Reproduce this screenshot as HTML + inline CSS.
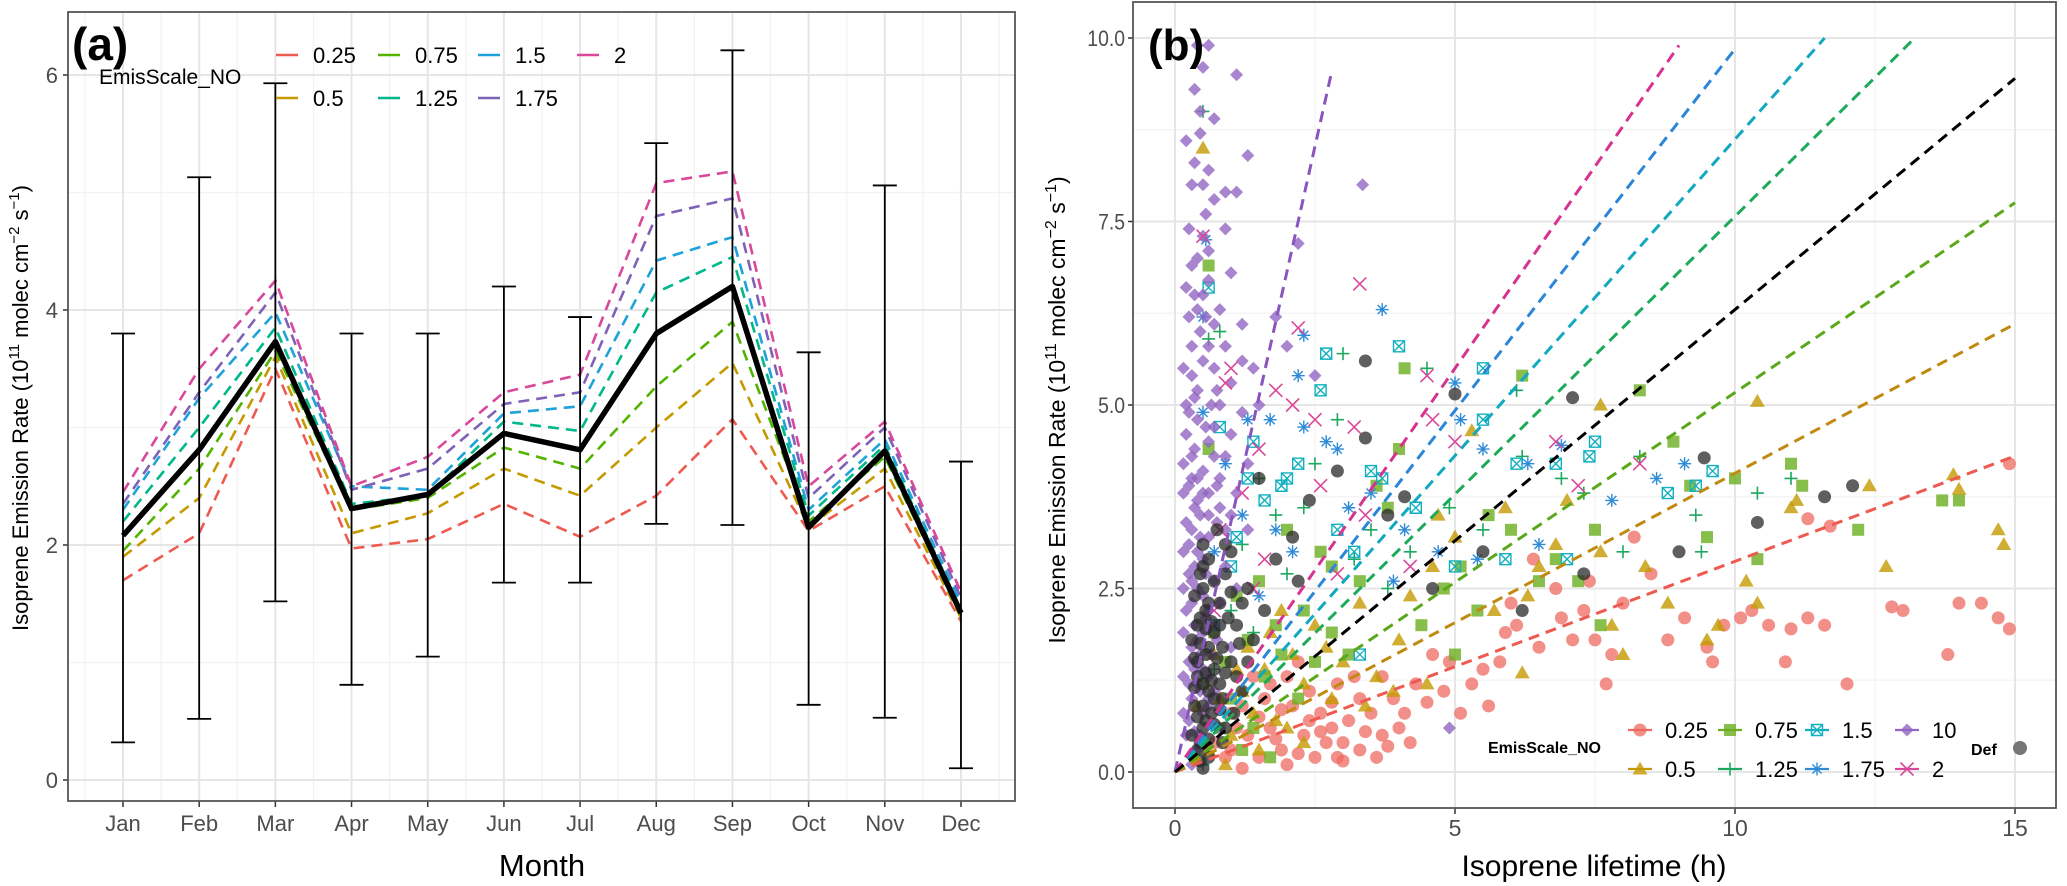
<!DOCTYPE html>
<html><head><meta charset="utf-8">
<style>
html,body{margin:0;padding:0;background:#fff;}
svg{display:block;font-family:"Liberation Sans",Arial,sans-serif;}
</style></head>
<body>
<svg id="fig" width="2067" height="886" viewBox="0 0 2067 886" xmlns="http://www.w3.org/2000/svg">
  <g id="panelA"></g>
  <g id="panelB"></g>
</svg>
<script>
// ---------- Panel (a) data ----------
const months = ["Jan","Feb","Mar","Apr","May","Jun","Jul","Aug","Sep","Oct","Nov","Dec"];
const yTicksA = [0,2,4,6];
const seriesNamesA = ["0.25","0.5","0.75","1.25","1.5","1.75","2"];
const s025 = [1.70,2.10,3.50,1.97,2.05,2.35,2.07,2.42,3.07,2.12,2.50,1.35];
const s05  = [1.90,2.40,3.60,2.10,2.27,2.65,2.42,3.00,3.55,2.15,2.65,1.38];
const s075 = [1.95,2.65,3.65,2.30,2.40,2.83,2.65,3.35,3.90,2.20,2.75,1.40];
const s125 = [2.20,3.00,3.85,2.35,2.42,3.05,2.97,4.15,4.45,2.25,2.85,1.45];
const s15  = [2.30,3.25,3.98,2.50,2.47,3.12,3.18,4.42,4.62,2.30,2.90,1.50];
const s175 = [2.35,3.30,4.15,2.47,2.65,3.20,3.30,4.80,4.95,2.40,3.00,1.55];
const s2   = [2.45,3.50,4.25,2.50,2.75,3.30,3.45,5.08,5.18,2.50,3.05,1.60];
const meanA = [2.08,2.81,3.73,2.31,2.43,2.95,2.81,3.80,4.20,2.15,2.80,1.42];
const errLow = [0.32,0.52,1.52,0.81,1.05,1.68,1.68,2.18,2.17,0.64,0.53,0.10];
const errHigh = [3.80,5.13,5.93,3.80,3.80,4.20,3.94,5.42,6.21,3.64,5.06,2.71];

// ---------- Panel (b) data ----------
const xTicksB = [0,5,10,15];
const yTicksB = [0,2.5,5,7.5,10];
const yTickLabelsB = ["0.0","2.5","5.0","7.5","10.0"];
const fitSlopes = [0.287,0.407,0.517,0.757,0.862,0.985,1.10,3.41,0.63];
const fitEnds = [15,15,15,13.2,11.6,10.0,9.0,2.8,15];
const ptsRed = [[14.9,1.95],[14.7,2.1],[14.4,2.3],[14.0,2.3],[13.8,1.6],[13.0,2.2],[12.8,2.25],[12.0,1.2],[11.6,2.0],[11.3,2.1],[11.0,1.95],[10.9,1.5],[10.6,2.0],[10.3,2.2],[10.1,2.1],[9.8,2.0],[9.6,1.5],[9.5,1.7],[9.1,2.1],[8.8,1.8],[8.5,2.7],[8.2,3.2],[8.0,2.3],[7.8,1.6],[7.7,1.2],[7.5,1.8],[7.3,2.2],[7.1,1.8],[6.9,2.1],[6.8,2.5],[6.5,1.7],[6.4,2.9],[6.1,2.0],[5.9,1.9],[5.8,1.5],[5.5,1.4],[5.3,1.2],[5.1,0.8],[4.8,1.1],[4.5,0.95],[4.6,1.6],[4.3,1.2],[4.0,0.6],[3.7,0.5],[3.5,0.8],[3.3,0.3],[3.0,0.4],[2.8,0.6],[2.6,0.8],[2.5,0.2],[2.3,0.5],[2.1,0.9],[1.9,0.3],[1.7,0.6],[1.5,0.2],[1.3,0.5],[1.2,0.9],[1.0,0.3],[3.9,1.0],[3.2,1.3],[2.9,1.2],[2.2,1.5],[6.0,2.3],[7.4,2.6],[11.7,3.35],[11.3,3.45],[14.9,4.2],[2.0,0.1],[2.7,0.4],[3.6,0.2],[1.6,1.0],[2.4,1.1],[3.1,0.7],[1.1,0.6],[1.4,1.3],[4.2,0.4],[5.6,0.9],[4.9,1.5],[0.9,0.2],[1.2,0.05],[1.8,0.45],[2.2,0.25],[2.6,0.55],[3.0,0.15],[3.4,0.55],[3.8,0.35],[1.5,0.75],[1.9,0.85],[2.4,0.7],[2.8,0.95],[3.3,1.0],[4.1,0.8],[0.7,0.4],[1.0,0.8],[1.7,1.2],[2.0,1.3],[2.9,0.2],[3.7,1.3]];
const ptsGold = [[14.8,3.1],[14.7,3.3],[13.9,4.05],[14.0,3.85],[12.4,3.9],[11.1,3.7],[10.4,5.05],[10.4,2.3],[10.2,2.6],[9.7,2.0],[9.5,1.8],[8.8,2.3],[8.4,2.8],[7.8,2.0],[7.6,5.0],[7.6,3.0],[7.0,3.7],[6.8,3.1],[6.5,2.8],[6.3,2.4],[5.9,3.6],[5.7,2.2],[5.3,4.65],[5.0,3.2],[4.7,3.5],[4.6,2.8],[4.2,2.4],[4.0,1.8],[3.9,1.1],[3.6,1.3],[3.3,2.3],[3.0,1.5],[2.8,1.0],[2.5,2.0],[2.3,1.2],[1.9,2.2],[1.6,1.4],[1.4,0.8],[1.2,1.1],[0.5,8.5],[8.0,1.6],[11.0,3.6],[12.7,2.8],[6.2,1.35],[4.5,1.2],[1.0,0.5],[1.8,0.7],[2.1,1.6],[2.7,1.7],[3.4,0.9],[0.8,1.0],[1.3,1.7],[0.6,0.3],[0.9,0.1],[1.1,1.4],[1.5,0.3],[1.7,1.9],[2.0,0.6],[2.3,0.4],[0.7,1.6],[0.4,0.9]];
const ptsLime = [[14.0,3.7],[13.7,3.7],[12.2,3.3],[11.2,3.9],[11.0,4.2],[10.0,4.0],[9.5,3.2],[9.2,3.9],[8.9,4.5],[8.3,5.2],[7.6,2.0],[7.5,3.3],[7.2,2.6],[6.8,2.9],[6.2,5.4],[6.0,3.3],[5.6,3.5],[5.4,2.2],[5.1,2.8],[4.8,2.5],[4.1,5.5],[4.0,4.4],[3.8,3.6],[3.6,3.9],[3.3,2.6],[3.1,1.6],[2.8,2.8],[2.6,3.0],[2.3,2.2],[2.0,3.3],[1.8,2.0],[1.5,2.6],[1.3,1.8],[1.1,2.4],[0.9,1.5],[0.6,6.9],[0.6,4.4],[10.4,2.9],[5.0,1.6],[4.4,2.0],[6.5,2.6],[1.0,1.0],[1.6,1.3],[2.2,1.0],[0.8,0.6],[1.2,0.3],[2.5,1.5],[0.7,1.9],[1.4,0.6],[1.9,1.6],[0.5,1.2],[2.8,1.9],[1.7,0.2]];
const ptsGreen = [[0.5,9.0],[0.6,5.9],[0.8,6.0],[3.0,5.7],[4.5,5.5],[6.1,5.2],[2.9,4.8],[11.0,4.0],[10.4,3.8],[9.3,3.5],[9.4,3.0],[8.3,4.3],[8.0,3.0],[7.3,3.8],[6.9,4.0],[6.2,4.3],[5.5,3.3],[4.9,3.6],[4.2,3.0],[3.8,2.5],[3.5,3.3],[3.2,2.9],[2.5,4.2],[2.3,3.6],[2.0,2.7],[1.8,3.5],[1.5,4.0],[1.2,3.1],[1.0,2.2],[0.7,1.4],[1.4,1.9],[0.9,0.8],[0.5,0.1]];
const ptsCyan = [[0.6,6.6],[0.8,4.7],[2.7,5.7],[2.6,5.2],[4.0,5.8],[5.5,5.5],[5.5,4.8],[8.8,3.8],[9.3,3.9],[9.6,4.1],[7.5,4.5],[7.4,4.3],[6.8,4.2],[6.1,4.2],[3.7,4.0],[3.5,4.1],[2.2,4.2],[1.9,3.9],[1.6,3.7],[1.3,4.0],[1.1,3.2],[4.3,3.6],[5.0,2.8],[5.9,2.9],[7.0,2.9],[2.9,3.3],[3.2,3.0],[1.0,2.8],[1.4,4.5],[2.0,4.0],[3.3,1.6],[0.7,2.0]];
const ptsBlue = [[0.55,7.25],[0.5,6.2],[3.7,6.3],[2.3,5.95],[2.2,5.4],[0.5,4.9],[1.3,4.8],[1.7,4.8],[2.3,4.7],[2.7,4.5],[2.9,4.4],[5.0,5.3],[5.1,4.8],[5.5,4.4],[6.3,4.2],[6.9,4.45],[7.8,3.7],[8.6,4.0],[9.1,4.2],[3.5,3.8],[3.1,3.6],[4.1,3.3],[4.7,3.0],[5.4,2.9],[6.5,3.1],[2.1,3.0],[1.8,3.3],[1.2,3.5],[0.9,4.2],[3.9,2.6],[0.7,3.0],[1.5,2.4]];
const ptsPurple = [[0.4,9.9],[0.6,9.9],[0.5,9.6],[1.1,9.5],[0.7,8.9],[0.45,8.7],[0.35,8.3],[0.6,8.2],[1.3,8.4],[0.9,7.9],[0.7,7.8],[1.1,7.9],[3.35,8.0],[0.9,7.4],[0.4,7.0],[0.6,6.7],[0.5,6.5],[1.8,6.2],[0.8,6.3],[1.2,6.1],[0.3,5.8],[0.7,5.5],[1.0,5.3],[0.4,5.2],[1.5,5.0],[0.2,4.6],[0.6,4.5],[0.9,4.3],[1.3,4.2],[0.3,4.0],[0.5,3.8],[0.8,3.6],[0.2,3.4],[0.6,3.2],[0.4,3.0],[0.9,2.8],[0.3,2.6],[0.5,2.4],[0.2,2.2],[0.7,2.0],[0.4,1.8],[0.25,1.5],[0.6,1.3],[0.3,1.0],[0.5,0.8],[0.2,0.5],[0.4,0.3],[0.3,0.1],[4.9,0.6],[2.2,7.2],[2.5,5.4],[2.0,5.8],[0.35,9.3],[0.55,7.6],[0.45,6.0],[0.65,5.0],[0.35,4.4],[0.75,3.9],[0.45,3.5],[0.25,3.1],[0.55,2.7],[0.35,2.0],[0.65,1.6],[0.45,1.1],[0.25,0.7],[0.55,0.4],[0.3,6.9],[0.5,7.3],[0.4,6.3],[0.6,5.8],[0.3,5.4],[0.5,5.6],[0.4,4.8],[0.7,4.7],[0.3,4.3],[0.5,4.1],[0.4,3.7],[0.6,3.5],[0.3,3.3],[0.5,2.9],[0.4,2.5],[0.3,2.3],[0.6,2.2],[0.5,1.9],[0.3,1.7],[0.5,1.4],[0.4,1.2],[0.6,0.9],[0.35,0.55],[0.8,5.0],[1.0,4.6],[0.8,4.0],[1.1,3.8],[0.9,3.3],[1.2,4.9],[1.4,5.5],[0.45,9.0],[0.3,8.0],[0.5,8.0],[0.2,6.6],[0.25,6.2],[0.15,5.5],[0.2,5.0],[0.15,4.2],[0.15,3.8],[0.15,3.0],[0.15,2.5],[0.15,1.9],[0.15,1.3],[0.15,0.8],[0.7,6.1],[0.75,5.2],[0.7,4.3],[0.75,3.4],[0.7,2.6],[0.8,2.3],[0.75,1.8],[0.7,1.1],[0.8,0.6],[0.35,6.5],[0.55,6.2],[0.35,5.1],[0.55,4.7],[0.4,4.0],[0.6,3.8],[0.35,3.6],[0.45,3.2],[0.35,2.8],[0.55,2.1],[0.45,1.6],[0.35,1.4],[0.6,1.0],[0.45,0.5],[0.25,3.9],[0.25,4.9],[0.25,2.7],[0.25,1.2],[0.9,5.8],[1.0,6.8],[1.2,5.6],[1.0,3.5],[1.1,2.5],[1.3,3.3],[1.0,1.7],[0.25,7.4],[0.6,7.1],[0.2,8.6]];
const ptsPink = [[0.5,7.3],[3.3,6.65],[2.2,6.05],[1.0,5.5],[0.9,5.3],[1.8,5.2],[2.1,5.0],[2.5,4.8],[4.5,5.4],[4.6,4.8],[3.2,4.7],[6.8,4.5],[8.3,4.2],[7.2,3.9],[2.6,3.9],[3.4,3.5],[1.5,4.4],[1.2,3.8],[0.8,3.3],[1.6,2.9],[2.9,2.7],[0.7,2.2],[1.4,2.5],[4.2,2.8],[5.0,4.5]];
const ptsDef = [[3.4,5.6],[7.1,5.1],[3.4,4.55],[9.45,4.28],[12.1,3.9],[11.6,3.75],[10.4,3.4],[9.0,3.0],[5.0,5.15],[4.1,3.75],[3.8,3.5],[7.3,2.7],[6.2,2.2],[2.1,3.2],[2.4,3.7],[1.5,4.0],[2.9,4.1],[4.6,2.5],[5.5,3.0],[0.4,0.3],[0.5,0.6],[0.35,0.9],[0.6,1.1],[0.4,1.3],[0.55,1.6],[0.3,1.8],[0.7,1.9],[0.45,2.1],[0.8,2.3],[0.5,2.5],[0.9,2.7],[0.6,2.9],[1.0,1.5],[1.1,2.0],[0.8,1.2],[0.65,0.8],[0.45,0.15],[0.9,0.6],[1.2,1.1],[1.3,2.5],[1.0,3.0],[0.75,3.3],[1.4,1.8],[0.5,3.1],[0.35,2.4],[0.6,0.45],[0.55,1.95],[0.85,1.7],[1.6,2.2],[1.8,2.9],[2.2,2.6],[0.3,0.5],[0.5,1.2],[0.4,0.75],[0.7,1.4],[0.6,2.3],[0.45,0.4],[0.5,0.9],[0.55,1.35],[0.45,1.75],[0.55,2.2],[0.45,2.7],[0.6,0.2],[0.7,0.65],[0.7,1.0],[0.75,1.55],[0.65,2.05],[0.7,2.6],[0.85,0.4],[0.85,1.0],[0.9,1.35],[0.95,2.1],[0.35,1.15],[0.35,1.55],[0.4,2.0],[0.5,0.05],[1.05,0.8],[1.1,1.3],[1.15,1.75],[1.2,2.3],[0.6,1.7],[0.8,0.85],[0.4,1.5],[0.65,1.25],[0.55,0.7],[1.3,1.5],[1.0,2.45],[0.9,3.1],[0.8,2.0],[0.5,2.8]];

const NS = "http://www.w3.org/2000/svg";
function mk(parent, tag, attrs, text){
  const el = document.createElementNS(NS, tag);
  for (const k in attrs) el.setAttribute(k, attrs[k]);
  if (text !== undefined) el.textContent = text;
  parent.appendChild(el);
  return el;
}
const colsA = ["#EE5A50","#C49A00","#53B400","#00B88A","#1DA2DB","#7F62B8","#D9489A"];

// ================= Panel A =================
const A = document.getElementById("panelA");
const aL=68,aR=1015,aT=12,aB=801;
const xa = i => 123 + i*76.18;
const ya = v => 780 - 117.5*v;

mk(A,"rect",{x:aL,y:aT,width:aR-aL,height:aB-aT,fill:"#fff"});
for (let v=1; v<=5; v+=2){
  const g = mk(A,"line",{x1:aL,x2:aR,y1:ya(v),y2:ya(v),stroke:"#f2f2f2","stroke-width":1.2});
  
  
}
for (let i=-1;i<12;i++){
  const x=(xa(i)+xa(i+1))/2;
  if (x<aL||x>aR) continue;
  const g = mk(A,"line",{x1:x,x2:x,y1:aT,y2:aB,stroke:"#f2f2f2","stroke-width":1.2});
  
  
}
yTicksA.forEach(v=>{
  const g = mk(A,"line",{x1:aL,x2:aR,y1:ya(v),y2:ya(v),stroke:"#e6e6e6","stroke-width":2});
  
  
  const t = mk(A,"text",{x:aL-10,y:ya(v)+8,"text-anchor":"end","font-size":22,fill:"#4d4d4d"},String(v));
  
  
  const tk = mk(A,"line",{x1:aL-5,x2:aL,y1:ya(v),y2:ya(v),stroke:"#333","stroke-width":1.5});
  
  
});
months.forEach((m,i)=>{
  const g = mk(A,"line",{x1:xa(i),x2:xa(i),y1:aT,y2:aB,stroke:"#e6e6e6","stroke-width":2});
  
  
  const tk = mk(A,"line",{x1:xa(i),x2:xa(i),y1:aB,y2:aB+6,stroke:"#333","stroke-width":1.5});
  
  
  const t = mk(A,"text",{x:xa(i),y:831,"text-anchor":"middle","font-size":22,fill:"#4d4d4d"},m);
  
  
});
const seriesA=[s025,s05,s075,s125,s15,s175,s2];
seriesA.forEach((s,k)=>{
  const d = s.map((v,i)=>(i?"L":"M")+xa(i).toFixed(1)+" "+ya(v).toFixed(1)).join(" ");
  const p = mk(A,"path",{d:d,fill:"none",stroke:colsA[k],"stroke-width":2.6,"stroke-dasharray":"11 7"});
  
  
});
months.forEach((m,i)=>{
  const g = mk(A,"path",{d:`M${xa(i)} ${ya(errLow[i])}V${ya(errHigh[i])}M${xa(i)-12} ${ya(errLow[i])}H${xa(i)+12}M${xa(i)-12} ${ya(errHigh[i])}H${xa(i)+12}`,stroke:"#000","stroke-width":1.8,fill:"none"});
  
  
});
{
  const d = meanA.map((v,i)=>(i?"L":"M")+xa(i).toFixed(1)+" "+ya(v).toFixed(1)).join(" ");
  const p = mk(A,"path",{d:d,fill:"none",stroke:"#000","stroke-width":5.5,"stroke-linejoin":"round"});
  
  
}
{
  const b = mk(A,"rect",{x:aL,y:aT,width:aR-aL,height:aB-aT,fill:"none",stroke:"#555","stroke-width":1.8});
  
  
  const t = mk(A,"text",{x:72,y:60,"font-size":46,"font-weight":"bold",fill:"#000"},"(a)");
  
  
  const lt = mk(A,"text",{x:99,y:84,"font-size":21,fill:"#000"},"EmisScale_NO");
  
  
  const pos=[[276,55],[276,98],[378,55],[378,98],[478,55],[478,98],[577,55]];
  seriesNamesA.forEach((n,k)=>{
    const [x,y]=pos[k];
    const l = mk(A,"line",{x1:x,x2:x+22,y1:y,y2:y,stroke:colsA[k],"stroke-width":2.6});
    
    
    const t2 = mk(A,"text",{x:x+37,y:y+8,"font-size":22,fill:"#000"},n);
    
    
  });
  const xt = mk(A,"text",{x:542,y:876,"text-anchor":"middle","font-size":31,fill:"#000"},"Month");
  
  
  const yt = mk(A,"text",{x:0,y:0,transform:"translate(28,408) rotate(-90)","text-anchor":"middle","font-size":22,fill:"#000"});
  yt.innerHTML = 'Isoprene Emission Rate (10<tspan dy="-9" font-size="15">11</tspan><tspan dy="9"> molec cm</tspan><tspan dy="-9" font-size="15">−2</tspan><tspan dy="9"> s</tspan><tspan dy="-9" font-size="15">−1</tspan><tspan dy="9">)</tspan>';
  
  
}

// ================= Panel B =================
const B = document.getElementById("panelB");
const bL=1133,bR=2056,bT=2,bB=808;
const xb = v => 1175 + 56*v;
const yb = v => 772 - 73.4*v;
mk(B,"rect",{x:bL,y:bT,width:bR-bL,height:bB-bT,fill:"#fff"});
[2.5,7.5,12.5].forEach(v=>{
  const g = mk(B,"line",{x1:xb(v),x2:xb(v),y1:bT,y2:bB,stroke:"#f2f2f2","stroke-width":1.2});
  
  
});
[1.25,3.75,6.25,8.75].forEach(v=>{
  const g = mk(B,"line",{x1:bL,x2:bR,y1:yb(v),y2:yb(v),stroke:"#f2f2f2","stroke-width":1.2});
  
  
});
xTicksB.forEach(v=>{
  const g = mk(B,"line",{x1:xb(v),x2:xb(v),y1:bT,y2:bB,stroke:"#e6e6e6","stroke-width":2});
  
  
  const tk = mk(B,"line",{x1:xb(v),x2:xb(v),y1:bB,y2:bB+6,stroke:"#333","stroke-width":1.5});
  
  
  const t = mk(B,"text",{x:xb(v),y:836,"text-anchor":"middle","font-size":23,fill:"#4d4d4d"},String(v));
  
  
});
yTicksB.forEach((v,i)=>{
  const g = mk(B,"line",{x1:bL,x2:bR,y1:yb(v),y2:yb(v),stroke:"#e6e6e6","stroke-width":2});
  
  
  const tk = mk(B,"line",{x1:bL-5,x2:bL,y1:yb(v),y2:yb(v),stroke:"#333","stroke-width":1.5});
  
  
  const t = mk(B,"text",{x:bL-8,y:yb(v)+8,"text-anchor":"end","font-size":22,fill:"#4d4d4d",transform:`translate(${(bL-8)*0.12},0) scale(0.88,1)`},yTickLabelsB[i]);
  
  
});

function marker(g, type, cx, cy, color){
  const r=6.5; let el;
  if (type==="circle") el = mk(g,"circle",{cx:cx,cy:cy,r:r,fill:color,"fill-opacity":0.75});
  else if (type==="tri") el = mk(g,"path",{d:`M${cx} ${cy-r-1}L${cx+r+1} ${cy+r-1}L${cx-r-1} ${cy+r-1}Z`,fill:color,"fill-opacity":0.8});
  else if (type==="square") el = mk(g,"rect",{x:cx-r+0.5,y:cy-r+0.5,width:2*r-1,height:2*r-1,fill:color,"fill-opacity":0.8});
  else if (type==="plus") el = mk(g,"path",{d:`M${cx-r} ${cy}H${cx+r}M${cx} ${cy-r}V${cy+r}`,stroke:color,"stroke-width":1.6,fill:"none"});
  else if (type==="sqx") el = mk(g,"path",{d:`M${cx-r+1} ${cy-r+1}h${2*r-2}v${2*r-2}h${-2*r+2}ZM${cx-r+1} ${cy-r+1}L${cx+r-1} ${cy+r-1}M${cx+r-1} ${cy-r+1}L${cx-r+1} ${cy+r-1}`,stroke:color,"stroke-width":1.4,fill:"none"});
  else if (type==="star") el = mk(g,"path",{d:`M${cx-r} ${cy}H${cx+r}M${cx} ${cy-r}V${cy+r}M${cx-r*0.7} ${cy-r*0.7}L${cx+r*0.7} ${cy+r*0.7}M${cx+r*0.7} ${cy-r*0.7}L${cx-r*0.7} ${cy+r*0.7}`,stroke:color,"stroke-width":1.4,fill:"none"});
  else if (type==="diamond") el = mk(g,"path",{d:`M${cx} ${cy-r}L${cx+r} ${cy}L${cx} ${cy+r}L${cx-r} ${cy}Z`,fill:color,"fill-opacity":0.8});
  else if (type==="x") el = mk(g,"path",{d:`M${cx-r} ${cy-r}L${cx+r} ${cy+r}M${cx+r} ${cy-r}L${cx-r} ${cy+r}`,stroke:color,"stroke-width":1.6,fill:"none"});
  return el;
}
const seriesB = [
  {n:"0.25",pts:ptsRed,type:"circle",c:"#EE6A60"},
  {n:"0.5",pts:ptsGold,type:"tri",c:"#C49A00"},
  {n:"0.75",pts:ptsLime,type:"square",c:"#6AAE1E"},
  {n:"1.25",pts:ptsGreen,type:"plus",c:"#1CA85F"},
  {n:"1.5",pts:ptsCyan,type:"sqx",c:"#12B0C0"},
  {n:"1.75",pts:ptsBlue,type:"star",c:"#2E8BD8"},
  {n:"10",pts:ptsPurple,type:"diamond",c:"#9266C2"},
  {n:"2",pts:ptsPink,type:"x",c:"#D9489A"},
  {n:"Def",pts:ptsDef,type:"circle",c:"#2a2a2a"}
];
seriesB.forEach(s=>{
  const g = mk(B,"g",{});
  
  
  s.pts.forEach(p=>{
    const m = marker(g,s.type,xb(p[0]),yb(p[1]),s.c);
    
    
  });
});
const fitCols = ["#EE5A50","#C08A10","#5AA81A","#1DAA5A","#12A8C0","#2A86D6","#D6338F","#8A55BE","#000"];
const fitNames = ["0.25","0.5","0.75","1.25","1.5","1.75","2","10","def"];
fitSlopes.forEach((sl,k)=>{
  const x1=fitEnds[k];
  const l = mk(B,"line",{x1:xb(0),y1:yb(0),x2:xb(x1),y2:yb(sl*x1),stroke:fitCols[k],"stroke-width":3,"stroke-dasharray":"11 7"});
  
  
});
{
  const b = mk(B,"rect",{x:bL,y:bT,width:bR-bL,height:bB-bT,fill:"none",stroke:"#555","stroke-width":1.8});
  
  
  const t = mk(B,"text",{x:1148,y:60,"font-size":44,"font-weight":"bold",fill:"#000"},"(b)");
  
  
  const lt = mk(B,"text",{x:1488,y:753,"font-size":16,"font-weight":"bold",fill:"#000"},"EmisScale_NO");
  
  
  const lpos = [[1640,730],[1640,769],[1730,730],[1730,769],[1817,730],[1817,769],[1907,730],[1907,769]];
  seriesB.slice(0,8).forEach((s,k)=>{
    const [x,y]=lpos[k];
    const ln = mk(B,"line",{x1:x-12,x2:x+12,y1:y,y2:y,stroke:s.c,"stroke-width":2.2});
    
    
    const m = marker(B,s.type,x,y,s.c);
    
    
    const t2 = mk(B,"text",{x:x+25,y:y+8,"font-size":22,fill:"#000"},s.n);
    
    
  });
  const dt = mk(B,"text",{x:1971,y:755,"font-size":16,"font-weight":"bold",fill:"#000"},"Def");
  
  
  const dd = mk(B,"circle",{cx:2020,cy:748,r:7,fill:"#777"});
  
  
  const xt = mk(B,"text",{x:1594,y:876,"text-anchor":"middle","font-size":30,fill:"#000"},"Isoprene lifetime (h)");
  
  
  const yt = mk(B,"text",{x:0,y:0,transform:"translate(1065,410) rotate(-90)","text-anchor":"middle","font-size":23,fill:"#000"});
  yt.innerHTML = 'Isoprene Emission Rate (10<tspan dy="-9" font-size="16">11</tspan><tspan dy="9"> molec cm</tspan><tspan dy="-9" font-size="16">−2</tspan><tspan dy="9"> s</tspan><tspan dy="-9" font-size="16">−1</tspan><tspan dy="9">)</tspan>';
  
  
}
</script>
</body></html>
